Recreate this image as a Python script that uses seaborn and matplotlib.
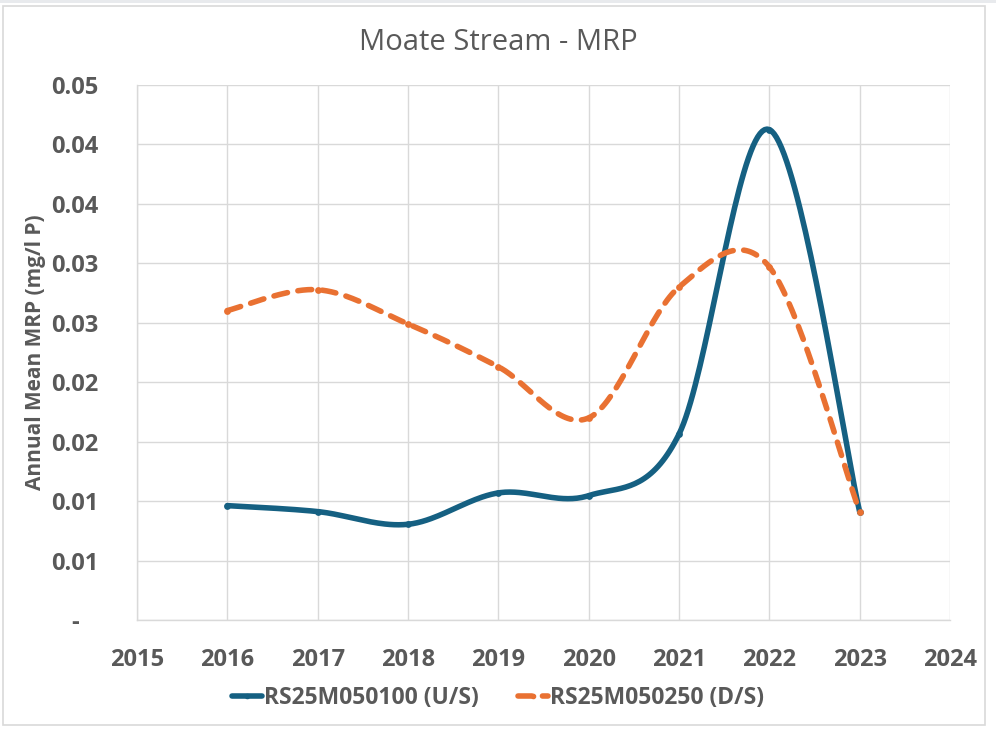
import numpy as np
import pandas as pd
import matplotlib
matplotlib.use('Agg')
import matplotlib.pyplot as plt
import seaborn as sns
from matplotlib.lines import Line2D
from matplotlib.patches import Rectangle

years = [2016, 2017, 2018, 2019, 2020, 2021, 2022, 2023]
upstream = [0.00962, 0.00912, 0.00805, 0.01069, 0.01046, 0.01563, 0.04125, 0.0091]
downstream = [0.02603, 0.02778, 0.0249, 0.0213, 0.0170, 0.0280, 0.0297, 0.0091]
series_names = ['RS25M050100 (U/S)', 'RS25M050250 (D/S)']
y_ticks = [0, 0.005, 0.01, 0.015, 0.02, 0.025, 0.03, 0.035, 0.04, 0.045]
y_labels = ['-   ', '0.01', '0.01', '0.02', '0.02', '0.03', '0.03', '0.04', '0.04', '0.05']
x_ticks = list(range(2015, 2025))

blue = '#156082'
orange = '#E97132'
grey_txt = '#595959'
grid_col = '#d9d9d9'


def smooth(xs, ys, n=40):
    # Excel style smoothed line: cubic bezier through points (catmull-rom tangents)
    xs = np.asarray(xs, float)
    ys = np.asarray(ys, float)
    px = np.concatenate([[xs[0]], xs, [xs[-1]]])
    py = np.concatenate([[ys[0]], ys, [ys[-1]]])
    outx, outy = [], []
    t = np.linspace(0, 1, n)
    for i in range(1, len(px) - 2):
        p0 = np.array([px[i], py[i]])
        p3 = np.array([px[i + 1], py[i + 1]])
        c1 = p0 + (p3 - np.array([px[i - 1], py[i - 1]])) / 6
        c2 = p3 - (np.array([px[i + 2], py[i + 2]]) - p0) / 6
        b = ((1 - t) ** 3)[:, None] * p0 + (3 * (1 - t) ** 2 * t)[:, None] * c1 \
            + (3 * (1 - t) * t ** 2)[:, None] * c2 + (t ** 3)[:, None] * p3
        outx.extend(b[:, 0])
        outy.extend(b[:, 1])
    return outx, outy


sns.set_style('white')
plt.rcParams['font.family'] = ['Open Sans', 'DejaVu Sans']

fig = plt.figure(figsize=(9.96, 7.29), dpi=100)
ax = fig.add_axes([137 / 996, 1 - 620 / 729, (950 - 137) / 996, (620 - 85) / 729])

LW = 4.0
DASH = (2.5, 1.9)

ux, uy = smooth(years, upstream)
dx, dy = smooth(years, downstream)
curves = pd.DataFrame({'x': ux, 'y': uy})
curves_ds = pd.DataFrame({'x': dx, 'y': dy})

sns.lineplot(data=curves, x='x', y='y', sort=False, color=blue, lw=LW,
             solid_capstyle='round', ax=ax, legend=False, zorder=3)
ln = sns.lineplot(data=curves_ds, x='x', y='y', sort=False, color=orange, lw=LW,
                  ax=ax, legend=False, zorder=4)
ln.lines[-1].set_dashes(DASH)
ln.lines[-1].set_dash_capstyle('round')

pts = pd.DataFrame({'year': years, 'us': upstream, 'ds': downstream})
sns.scatterplot(data=pts, x='year', y='us', color=blue, s=24, linewidth=0, ax=ax, zorder=5)
sns.scatterplot(data=pts, x='year', y='ds', color=orange, s=24, linewidth=0, ax=ax, zorder=5)

ax.set_xlim(2015, 2024)
ax.set_ylim(0, 0.045)
ax.set_xticks(x_ticks)
ax.set_xticklabels([str(x) for x in x_ticks])
ax.set_yticks(y_ticks)
ax.set_yticklabels(y_labels)
ax.grid(True, color=grid_col, lw=1)
for s in ['top', 'right']:
    ax.spines[s].set_visible(False)
for s in ['left', 'bottom']:
    ax.spines[s].set_color(grid_col)
    ax.spines[s].set_linewidth(1)
ax.tick_params(axis='both', length=0, labelsize=17, labelcolor=grey_txt)
ax.tick_params(axis='y', pad=28)
ax.tick_params(axis='x', pad=20)
for lab in ax.get_xticklabels() + ax.get_yticklabels():
    lab.set_fontweight('bold')

ax.set_xlabel('')
ax.set_ylabel('Annual Mean MRP (mg/l P)', fontsize=15, fontweight='bold', color=grey_txt)
ax.yaxis.set_label_coords(-0.112, 0.5)
fig.text(0.5, 1 - 42 / 729, 'Moate Stream - MRP', ha='center', va='center', fontsize=21, color=grey_txt)

handles = [Line2D([], [], color=blue, lw=LW, marker='o', markersize=3, solid_capstyle='round'),
           Line2D([], [], color=orange, lw=LW, marker='o', markersize=3, dashes=DASH,
                  dash_capstyle='round')]
leg = fig.legend(handles, series_names, loc='center', bbox_to_anchor=(0.5, 1 - 698 / 729), ncol=2,
                 frameon=False, handlelength=1.3, handletextpad=0.1, columnspacing=1.7,
                 prop={'size': 16.5, 'weight': 'bold'})
for t in leg.get_texts():
    t.set_color(grey_txt)

fig.patches.append(Rectangle((3 / 996, 1 - 725 / 729), 982 / 996, 719 / 729, transform=fig.transFigure,
                             fill=False, edgecolor=grid_col, lw=1.2))
fig.patches.append(Rectangle((0, 1 - 3 / 729), 1, 3 / 729, transform=fig.transFigure,
                             facecolor='#e8eaed', edgecolor='none'))

fig.savefig('out.png', dpi=100)
